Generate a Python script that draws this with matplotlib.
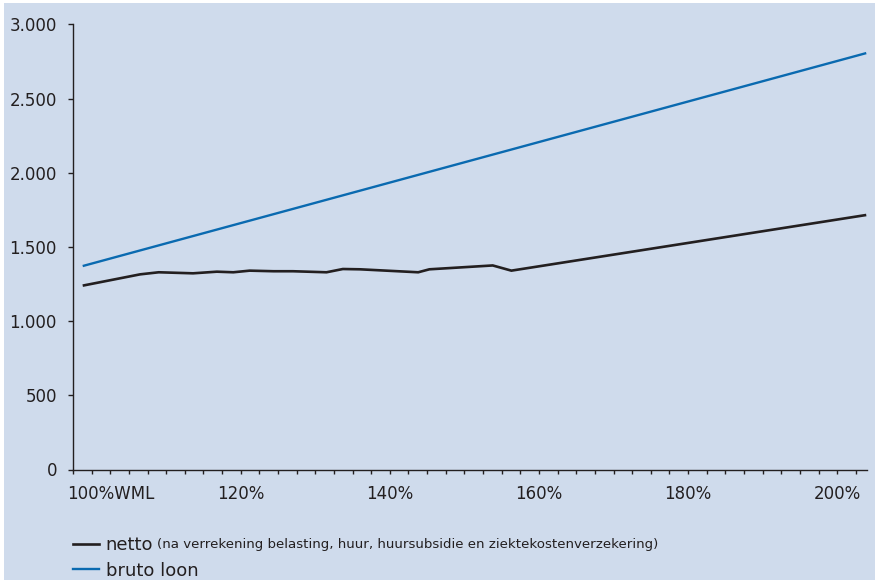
import numpy as np
import matplotlib
matplotlib.use("Agg")
import matplotlib.pyplot as plt
from matplotlib.lines import Line2D
from matplotlib.patches import Rectangle
from matplotlib.ticker import FuncFormatter
from matplotlib.transforms import ScaledTranslation

# percentage of minimum wage (WML) on the x axis, euro per month on the y axis
netto_pct = [98.8, 106.5, 109.0, 113.6, 116.8, 119.0, 121.2, 124.4, 127.0,
             131.5, 133.7, 136.0, 143.8, 145.3, 153.8, 156.3, 203.9]
netto_val = [1239, 1315, 1329, 1322, 1333, 1329, 1340, 1336, 1336,
             1329, 1351, 1349, 1329, 1349, 1375, 1340, 1715]
bruto_pct = [98.8, 203.9]
bruto_val = [1371, 2806]

x_ticks = [100, 120, 140, 160, 180, 200]
x_labels = ["100%WML", "120%", "140%", "160%", "180%", "200%"]
y_ticks = [0, 500, 1000, 1500, 2000, 2500, 3000]

bg = "#CFDBEC"
dark = "#231F20"
blue = "#0A6AB0"

plt.rcParams["font.family"] = ["DejaVu Sans"]

fig = plt.figure(figsize=(8.75, 5.8), dpi=100)
fig.patch.set_facecolor("white")
fig.patches.append(Rectangle((4 / 875, 0), 1, 1 - 3 / 580, transform=fig.transFigure,
                             facecolor=bg, edgecolor="none", zorder=-10))

ax = fig.add_axes([73 / 875, 1 - 469.5 / 580, (867 - 73) / 875, (469.5 - 24.3) / 580])
ax.set_facecolor("none")

ax.plot(bruto_pct, bruto_val, color=blue, lw=1.7, solid_capstyle="butt")
ax.plot(netto_pct, netto_val, color=dark, lw=1.9, solid_capstyle="butt",
        solid_joinstyle="miter")

ax.set_xlim(97.5, 204)
ax.set_ylim(0, 3000)

for s in ["top", "right"]:
    ax.spines[s].set_visible(False)
for s in ["left", "bottom"]:
    ax.spines[s].set_color(dark)
    ax.spines[s].set_linewidth(1.0)

ax.set_yticks(y_ticks)
ax.yaxis.set_major_formatter(FuncFormatter(lambda v, p: f"{int(v):,}".replace(",", ".")))
ax.tick_params(axis="y", direction="out", length=3.6, width=1.0, color=dark,
               labelsize=12, labelcolor=dark, pad=8)

ax.set_xticks(x_ticks)
ax.set_xticklabels(x_labels)
ax.set_xticks(np.arange(97.5, 204, 2.5), minor=True)
ax.tick_params(axis="x", which="both", direction="out", length=3.0, width=1.0,
               color=dark, labelsize=12, labelcolor=dark, pad=8)

# first label: "100%" centred on the tick, "WML" hanging to the right
lab0 = ax.get_xticklabels()[0]
lab0.set_ha("left")
lab0.set_transform(lab0.get_transform() + ScaledTranslation(-17.4 / 72, 0, fig.dpi_scale_trans))

handles = [Line2D([], [], color=dark, lw=1.9), Line2D([], [], color=blue, lw=1.7)]
leg = fig.legend(handles, ["netto", "bruto loon"], loc="upper left",
                 bbox_to_anchor=(66 / 875, 1 - 529 / 580), frameon=False,
                 fontsize=13, handlelength=1.45, handletextpad=0.35,
                 labelspacing=0.42, borderaxespad=0)
for t in leg.get_texts():
    t.set_color(dark)

fig.canvas.draw()
bb = leg.get_texts()[0].get_window_extent()
fig.text((bb.x1 + 4) / 875, (bb.y0 + 3) / 580,
         "(na verrekening belasting, huur, huursubsidie en ziektekostenverzekering)",
         fontsize=9.6, color=dark, ha="left", va="bottom")

fig.savefig("out.png", dpi=100, facecolor=fig.get_facecolor())
